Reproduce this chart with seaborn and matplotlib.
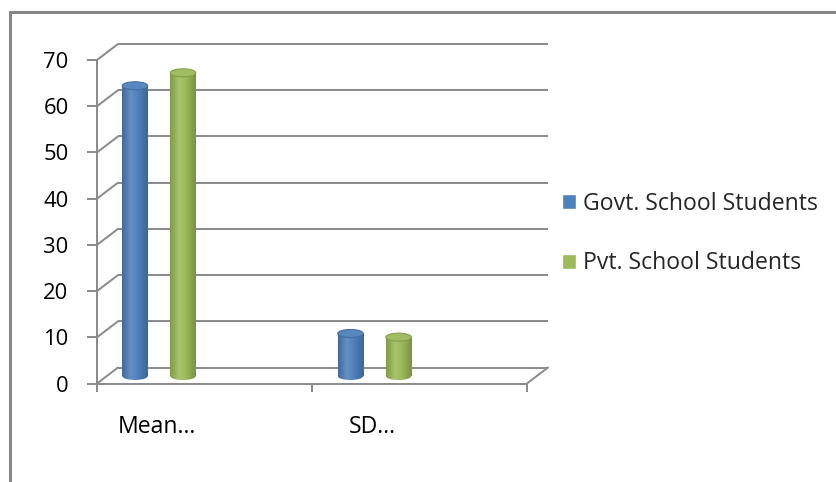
import numpy as np
import pandas as pd
import matplotlib
matplotlib.use("Agg")
import matplotlib.pyplot as plt
import matplotlib.transforms as mtransforms
from matplotlib.lines import Line2D
from matplotlib.patches import Ellipse
from matplotlib.colors import LinearSegmentedColormap, to_rgb
import seaborn as sns

# ---- data -------------------------------------------------------------
categories = ["Mean…", "SD…"]
series = ["Govt. School Students", "Pvt. School Students"]
govt_values = [62.8, 9.2]
pvt_values = [65.6, 8.4]
y_ticks = [0, 10, 20, 30, 40, 50, 60, 70]

df = pd.DataFrame({
    "measure": categories * 2,
    "group": [series[0]] * len(categories) + [series[1]] * len(categories),
    "value": govt_values + pvt_values,
})

# ---- style ------------------------------------------------------------
W, H, DPI = 836, 482, 100
BLUE = "#4F81BD"
GREEN = "#9BBB59"
GRID = "#8c8c8c"
LW = 2 * 72 / DPI          # 2 px lines

sns.set_theme(style="white")
plt.rcParams["font.family"] = ["Open Sans", "DejaVu Sans"]
FS_TICK = 15.8
FS_TEXT = 16.6

fig = plt.figure(figsize=(W / DPI, H / DPI), dpi=DPI)

# front plane of the 3-D box, in pixels
x_left_px, x_right_px = 97, 527
y0_px, y70_px = 383.5, 60
ax = fig.add_axes([x_left_px / W, 1 - y0_px / H,
                   (x_right_px - x_left_px) / W, (y0_px - y70_px) / H])
ax.patch.set_alpha(0)

sns.barplot(data=df, x="measure", y="value", hue="group",
            palette=[BLUE, GREEN], saturation=1, errorbar=None,
            width=0.446, gap=0.47, ax=ax)

unit = 215.5
xl = (x_left_px - 148.5) / unit
xr = (x_right_px - 148.5) / unit
ax.set_xlim(xl, xr)
ax.set_ylim(0, 70)

# depth offsets: back wall and middle depth (where the cylinders stand)
DX, DY = 21, 16
back_off = mtransforms.ScaledTranslation(DX / DPI, DY / DPI, fig.dpi_scale_trans)
mid_off = mtransforms.ScaledTranslation(10.5 / DPI, 7.5 / DPI, fig.dpi_scale_trans)

# ---- back wall gridlines and side-wall diagonals ----------------------
to_disp = ax.transData.transform
for v in y_ticks:
    ax.plot([xl, xr], [v, v], color=GRID, lw=LW, transform=ax.transData + back_off,
            clip_on=False, zorder=0.5, solid_capstyle="butt")
    p0 = to_disp((xl, v))
    fig.add_artist(Line2D([p0[0], p0[0] + DX], [p0[1], p0[1] + DY],
                          transform=mtransforms.IdentityTransform(),
                          color=GRID, lw=LW, zorder=0.5))
# right edge of the floor
pr = to_disp((xr, 0))
fig.add_artist(Line2D([pr[0], pr[0] + DX], [pr[1], pr[1] + DY],
                      transform=mtransforms.IdentityTransform(),
                      color=GRID, lw=LW, zorder=5))

# ---- cylinders --------------------------------------------------------
def shade(c, f):
    r = np.array(to_rgb(c))
    return tuple(np.clip(r * f, 0, 1)) if f <= 1 else tuple(np.clip(r + (1 - r) * (f - 1), 0, 1))

bars = [p for p in ax.patches if p.get_width() > 0 and p.get_height() > 0]
ell_h = 8 / 4.62
grad = np.linspace(0, 1, 256)[None, :]
for bar in bars:
    col = bar.get_facecolor()[:3]
    x0, w, h = bar.get_x(), bar.get_width(), bar.get_height()
    xc = x0 + w / 2
    tr = ax.transData + mid_off
    bar.set_transform(tr)
    bar.set_edgecolor("none")
    bar.set_zorder(2)
    cmap = LinearSegmentedColormap.from_list(
        "cyl", [(0, shade(col, 0.82)), (0.35, shade(col, 1.12)),
                (0.6, shade(col, 1.0)), (1, shade(col, 0.78))])
    img = ax.imshow(grad, cmap=cmap, extent=(x0, x0 + w, 0, h), aspect="auto",
                    transform=tr, zorder=2.1, interpolation="bilinear")
    img.set_clip_path(bar)
    base = Ellipse((xc, 0), w, ell_h, transform=tr, facecolor="none", edgecolor="none")
    ax.add_patch(base)
    img2 = ax.imshow(grad, cmap=cmap, extent=(x0, x0 + w, -ell_h / 2, ell_h / 2),
                     aspect="auto", transform=tr, zorder=2.1, interpolation="bilinear")
    img2.set_clip_path(base)
    ax.add_patch(Ellipse((xc, h), w, ell_h, transform=tr, zorder=2.3,
                         facecolor=shade(col, 1.05), edgecolor=shade(col, 0.85), lw=0.8))

ax.set_xlim(xl, xr)
ax.set_ylim(0, 70)

# ---- axes, ticks and labels --------------------------------------------
for s in ["top", "right"]:
    ax.spines[s].set_visible(False)
for s in ["left", "bottom"]:
    ax.spines[s].set_color(GRID)
    ax.spines[s].set_linewidth(LW)
    ax.spines[s].set_zorder(5)

ax.set_yticks(y_ticks)
ax.tick_params(axis="y", which="major", length=7, width=LW, color=GRID,
               pad=13.5, labelsize=FS_TICK, labelcolor="black", left=True)

ax.set_xticks([0.04, 1.04], categories)
ax.set_xticks([xl, (xl + xr) / 2, xr], minor=True)
ax.tick_params(axis="x", which="major", length=0, pad=23, labelsize=FS_TEXT, labelcolor="black")
ax.tick_params(axis="x", which="minor", length=6, width=LW, color=GRID, bottom=True)
ax.set_xlabel("")
ax.set_ylabel("")

# ---- legend -----------------------------------------------------------
handles, labels = ax.get_legend_handles_labels()
if ax.get_legend() is not None:
    ax.get_legend().remove()
fig.legend(handles, labels, loc="center left",
           bbox_to_anchor=(562 / W, 1 - 233.7 / H), bbox_transform=fig.transFigure,
           frameon=False, fontsize=FS_TEXT, handlelength=0.62, handleheight=0.62,
           handletextpad=0.28, labelspacing=1.54, borderpad=0, borderaxespad=0)

# ---- chart area frame (open to the right and bottom) --------------------
fx, fy = 9.5 / W, 1 - 12 / H
fig.add_artist(Line2D([fx, fx], [0, fy], transform=fig.transFigure,
                      color="#878787", lw=3 * 72 / DPI))
fig.add_artist(Line2D([fx, 1], [fy, fy], transform=fig.transFigure,
                      color="#878787", lw=3 * 72 / DPI))

fig.savefig("out.png", dpi=DPI, facecolor="white")
